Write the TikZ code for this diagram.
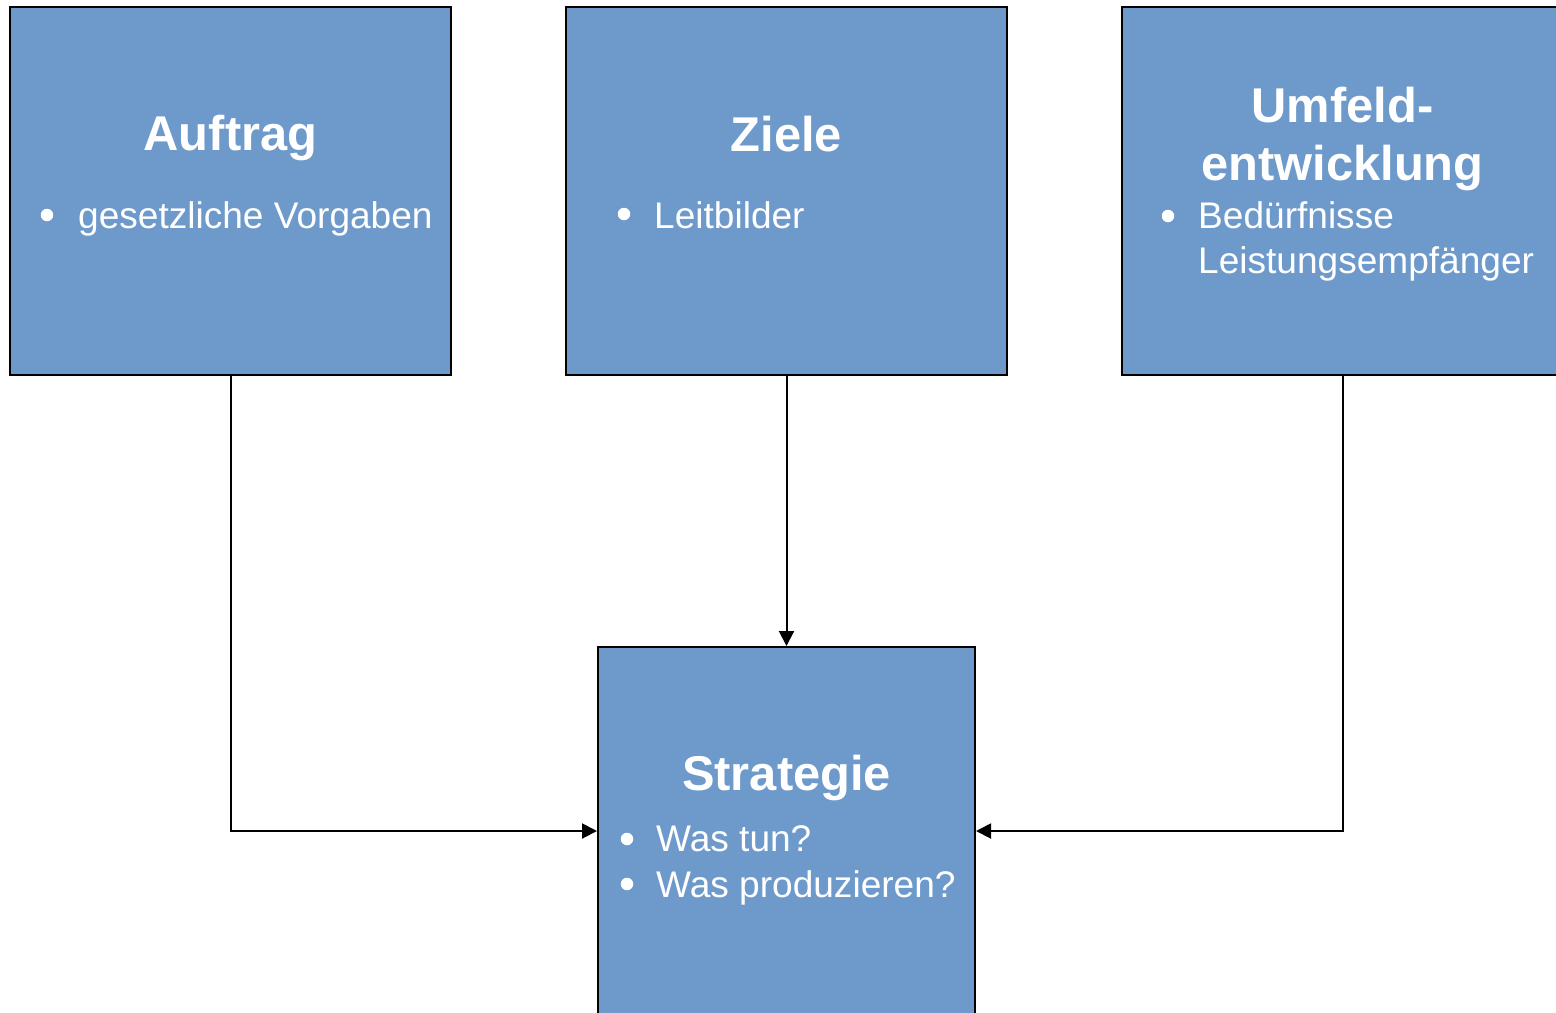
\documentclass[tikz,border=0pt]{standalone}
\usepackage{fontspec}
\setmainfont{Liberation Sans}
\usetikzlibrary{arrows.meta}
\definecolor{boxblue}{RGB}{110,154,203}
\tikzset{
  box/.style={draw=black, line width=2bp, fill=boxblue, inner sep=0pt, minimum width=#1, minimum height=368bp},
  ttl/.style={text=white, font=\fontsize{49}{58}\selectfont\bfseries, anchor=base, inner sep=0pt},
  bodytxt/.style={text=white, font=\fontsize{37.2}{46}\selectfont, anchor=base west, inner sep=0pt},
  bul/.style={circle, fill=white, inner sep=0pt, minimum size=12.5bp},
  conn/.style={draw=black, line width=2bp, -{Triangle[length=15bp,width=15bp]}}
}
\begin{document}
\begin{tikzpicture}[x=1bp,y=-1bp]
\clip (0,0) rectangle (1556,1012);
\fill[white] (0,0) rectangle (1556,1012);
% boxes
\node[box=441bp] (auf) at (230.5,191) {};
\node[box=441bp] (zie) at (786.5,191) {};
\node[box=441bp] (umf) at (1342.5,191) {};
\node[box=377bp] (str) at (786.5,831) {};
% connectors
\draw[conn] (auf.south) |- (str.west);
\draw[conn] (zie.south) -- (str.north);
\draw[conn] (umf.south) |- (str.east);
% Auftrag
\node[ttl] (aufT) at (230.5,150) {Auftrag};
\node[bul] (aufB) at (47,215) {};
\node[bodytxt] (aufX) at (78,228) {gesetzliche Vorgaben};
% Ziele
\node[ttl] (zieT) at (786.5,151) {Ziele};
\node[bul] (zieB) at (624,214) {};
\node[bodytxt] (zieX) at (654,228) {Leitbilder};
% Umfeld
\node[ttl] (umfT1) at (1342.5,122) {Umfeld-};
\node[ttl] (umfT2) at (1342.5,180) {entwicklung};
\node[bul] (umfB) at (1168,216) {};
\node[bodytxt] (umfX1) at (1198,228) {Bedürfnisse};
\node[bodytxt] (umfX2) at (1198,273) {Leistungsempfänger};
% Strategie
\node[ttl] (strT) at (786.5,790) {Strategie};
\node[bul] (strB1) at (627,839) {};
\node[bodytxt] (strX1) at (656,851) {Was tun?};
\node[bul] (strB2) at (627,884) {};
\node[bodytxt] (strX2) at (656,897) {Was produzieren?};
\end{tikzpicture}
\end{document}
